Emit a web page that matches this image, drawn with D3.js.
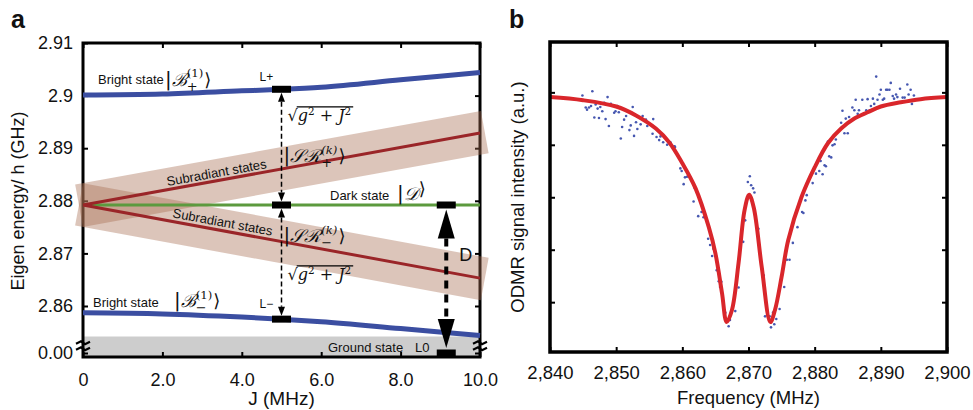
<!DOCTYPE html>
<html>
<head>
<meta charset="utf-8">
<title>Eigen energies and ODMR</title>
<style>
    html, body { margin: 0; padding: 0; background: #fff; }
    svg text { font-family: "Liberation Sans", Arial, sans-serif; fill: #111; }
    .math { font-family: "DejaVu Serif", serif; }
    .tick line { stroke: #000; stroke-width: 2; }
    .tick text { font-size: 18px; fill: #111; }
</style>
<script src="https://cdn.jsdelivr.net/npm/d3@7"></script>
</head>
<body>
<div id="main"></div>
<script>
// ---------- panel a : eigen energies vs coupling J ----------
var jTicks = [0, 2, 4, 6, 8, 10];
var jTickLabels = ["0", "2.0", "4.0", "6.0", "8.0", "10.0"];
var eTicks = [0, 2.86, 2.87, 2.88, 2.89, 2.9, 2.91];
var eTickLabels = ["0.00", "2.86", "2.87", "2.88", "2.89", "2.9", "2.91"];

var jGrid = [0, 2, 4, 5, 6, 8, 10];
var brightPlus  = [2.9001, 2.9003, 2.9009, 2.9012, 2.9016, 2.9030, 2.9044];
var brightMinus = [2.8587, 2.8585, 2.8579, 2.8575, 2.8570, 2.8557, 2.8544];
var lineJ = [0, 10];
var subPlus  = [2.8792, 2.8929];
var subMinus = [2.8792, 2.8653];
var dark     = [2.8792, 2.8792];
var bandJ = [-0.1, 10.12];          // subradiant bands run a bit past the frame
var groundTop = 2.8542;             // upper edge of the ground-state strip
var groundE = 0;
var transJ = 5;                     // L+ / L- transitions
var zeroFieldJ = 9.15;              // D transition

// ---------- panel b : ODMR spectrum ----------
var freqTicks = [2840, 2850, 2860, 2870, 2880, 2890, 2900];
var sigTicks = [1, 2, 3, 4, 5];
var fitFreq = [2840, 2845, 2850, 2853, 2856, 2858, 2860, 2862, 2864, 2865, 2866, 2866.7,
               2867.5, 2868.5, 2869.4, 2870.1, 2870.8, 2872, 2873.3, 2874, 2875, 2876,
               2878, 2880, 2882, 2884, 2886, 2888, 2890, 2893, 2896, 2900];
var fitSig  = [4.91, 4.85, 4.73, 4.56, 4.31, 4.05, 3.65, 3.17, 2.43, 1.93, 1.17, 0.62,
               0.85, 1.75, 2.75, 3.05, 2.80, 1.67, 0.62, 0.85, 1.48, 2.18,
               3.00, 3.57, 4.03, 4.31, 4.50, 4.62, 4.73, 4.81, 4.87, 4.91];
var dotFreq = [2844.9, 2846.4, 2845.4, 2845.6, 2845.9, 2846.2, 2846.9, 2847.2, 2847.6, 2847.9,
               2848.7, 2848.2, 2849.2, 2846.7, 2847.4, 2848.4, 2848.9, 2849.7, 2849.9, 2850.2,
               2850.4, 2851.2, 2851.5, 2850.9, 2850.7, 2852.0, 2852.2, 2852.5, 2852.7, 2853.0,
               2853.2, 2853.7, 2854.0, 2854.5, 2854.7, 2855.6, 2855.5, 2856.1, 2856.5, 2856.7,
               2857.1, 2857.7, 2858.0, 2858.4, 2858.8, 2858.2, 2858.9, 2859.7, 2859.9, 2860.2,
               2860.4, 2860.7, 2861.4, 2861.9, 2861.7, 2862.4, 2862.9, 2863.2, 2863.9, 2864.2,
               2864.7, 2864.5, 2865.2, 2865.5, 2865.9, 2865.7, 2866.2, 2866.5, 2867.0, 2867.2,
               2868.0, 2868.5, 2869.2, 2869.5, 2869.9, 2870.2, 2870.4, 2870.7, 2870.9, 2871.5,
               2872.3, 2872.5, 2873.2, 2873.4, 2873.7, 2873.9, 2874.2, 2874.7, 2875.4, 2875.8,
               2876.2, 2876.7, 2877.4, 2878.1, 2878.3, 2878.6, 2878.8, 2879.7, 2880.2, 2880.7,
               2881.2, 2880.9, 2881.5, 2881.7, 2882.2, 2882.5, 2882.7, 2883.0, 2883.2, 2882.0,
               2884.0, 2884.5, 2885.0, 2884.7, 2885.2, 2884.2, 2885.7, 2886.0, 2886.5, 2886.2,
               2886.7, 2887.2, 2887.8, 2888.0, 2888.3, 2888.5, 2888.8, 2889.0, 2889.3, 2889.5,
               2889.8, 2890.0, 2890.3, 2890.5, 2890.8, 2891.0, 2891.3, 2891.5, 2891.8, 2892.0,
               2892.3, 2892.5, 2892.9, 2893.3, 2893.6, 2894.0, 2894.2, 2894.5, 2895.0, 2894.7];
var dotSig  = [4.94, 5.02, 4.71, 4.67, 4.71, 4.74, 4.77, 4.69, 4.72, 4.64,
               4.91, 4.80, 4.78, 4.52, 4.51, 4.49, 4.36, 4.61, 4.64, 4.74,
               4.62, 4.48, 4.55, 4.34, 4.12, 4.28, 4.37, 4.72, 4.17, 4.43,
               4.30, 4.39, 4.55, 4.48, 4.36, 4.49, 4.21, 4.15, 4.09, 4.16,
               4.05, 4.00, 4.03, 3.99, 3.97, 4.05, 3.96, 3.55, 3.50, 3.25,
               3.38, 3.39, 3.32, 3.17, 2.92, 2.64, 2.72, 2.62, 2.21, 2.09,
               2.02, 1.88, 1.61, 1.40, 1.39, 1.29, 0.96, 0.80, 0.54, 0.66,
               0.83, 1.28, 2.15, 2.56, 3.29, 3.40, 3.23, 3.17, 3.09, 2.40,
               1.51, 0.73, 0.73, 0.52, 0.80, 0.58, 0.68, 0.87, 1.29, 1.81,
               1.81, 2.13, 2.43, 2.72, 2.70, 2.94, 3.04, 3.27, 3.45, 3.50,
               3.44, 3.69, 3.61, 3.59, 3.78, 3.76, 3.99, 4.01, 4.10, 4.06,
               4.42, 4.22, 4.22, 4.50, 4.53, 4.65, 4.71, 4.66, 4.59, 4.86,
               4.66, 4.86, 4.66, 4.87, 4.66, 4.74, 4.88, 4.78, 5.30, 4.86,
               4.96, 5.05, 4.86, 4.88, 5.05, 5.05, 5.05, 5.18, 4.93, 4.88,
               4.96, 4.91, 5.07, 4.90, 4.90, 5.15, 4.96, 5.05, 4.94, 4.78];

var width = 973, height = 410;
var blue = "#3b4ea1", darkRed = "#9a2528", green = "#5c9a3e";

var svg = d3.select("#main").append("svg")
    .attr("width", width).attr("height", height);

function ket(g, x, y, body, sup, sub, size) {
    var t = g.append("text").attr("class", "math")
        .attr("x", x).attr("y", y).style("font-size", size + "px");
    t.append("tspan").text("|").style("font-family", "DejaVu Sans").style("font-size", (size * 1.1) + "px");
    t.append("tspan").text(body).style("font-style", "italic");
    var s = t.append("tspan").attr("dy", -size * 0.45)
        .style("font-size", (size * 0.65) + "px").text(sup);
    if (sup.indexOf("k") >= 0) s.style("font-style", "italic");
    var w = s.node().getComputedTextLength();
    var b = t.append("tspan").attr("dx", -w).attr("dy", size * 0.75)
        .style("font-size", (size * 0.72) + "px").text(sub);
    var w2 = b.node().getComputedTextLength();
    t.append("tspan").attr("dx", Math.max(w - w2, 0) + 1).attr("dy", -size * 0.3)
        .style("font-family", "DejaVu Sans").text("\u27E9");
}

function sqrtLabel(g, x, y, size) {
    var t = g.append("text").attr("class", "math")
        .attr("x", x).attr("y", y).style("font-size", size + "px");
    var r = t.append("tspan").text("\u221A");
    t.append("tspan").style("font-style", "italic").text("g");
    t.append("tspan").attr("dy", -size * 0.4).style("font-size", (size * 0.65) + "px").text("2");
    t.append("tspan").attr("dy", size * 0.4).text(" + ");
    t.append("tspan").style("font-style", "italic").text("J");
    t.append("tspan").attr("dy", -size * 0.4).style("font-size", (size * 0.65) + "px").text("2");
    var x0 = x + r.node().getComputedTextLength();
    var bb = t.node().getBBox();
    g.append("line").attr("x1", x0 - 1).attr("x2", bb.x + bb.width + 2)
        .attr("y1", y - size * 0.88).attr("y2", y - size * 0.88)
        .attr("stroke", "#000").attr("stroke-width", 1.3);
}

function vArrow(g, x, yFrom, yTo, head, half, lw, dash) {
    // yFrom / yTo are the arrow tips; heads point outward to both ends
    var dir = yTo > yFrom ? 1 : -1;
    g.append("line").attr("x1", x).attr("x2", x)
        .attr("y1", yFrom + dir * head).attr("y2", yTo - dir * head)
        .attr("stroke", "#000").attr("stroke-width", lw).attr("stroke-dasharray", dash);
    [[yFrom, dir], [yTo, -dir]].forEach(function(p) {
        var tip = p[0], d = p[1];
        g.append("path")
            .attr("d", "M" + x + "," + tip + " L" + (x - half) + "," + (tip + d * head) +
                       " L" + (x + half) + "," + (tip + d * head) + " Z")
            .attr("fill", "#000");
    });
}

function marker(g, x, y) {
    g.append("rect").attr("x", x - 9.5).attr("y", y - 3.5)
        .attr("width", 19).attr("height", 7).attr("fill", "#000");
}

// ================= panel a =================
var xa = d3.scaleLinear().domain([0, 10]).range([83, 480]);
var ya = d3.scaleLinear().domain([groundE, groundTop, 2.91]).range([353, 336.5, 43]);
var aBottom = 357;
var ga = svg.append("g");

ga.append("rect").attr("x", xa(0)).attr("y", ya(groundTop))
    .attr("width", xa(10) - xa(0)).attr("height", aBottom - ya(groundTop))
    .attr("fill", "#cdcdcd");

// ticks (inward) on all four sides
ga.append("g").attr("transform", "translate(" + xa(0) + ",0)")
    .call(d3.axisLeft(ya).tickValues(eTicks).tickSizeInner(-5).tickSizeOuter(0).tickPadding(10)
        .tickFormat(function(d, i) { return eTickLabels[i]; }))
    .call(function(s) { s.select(".domain").remove(); });
ga.append("g").attr("transform", "translate(" + xa(10) + ",0)")
    .call(d3.axisRight(ya).tickValues(eTicks).tickSizeInner(-5).tickSizeOuter(0).tickFormat(""))
    .call(function(s) { s.select(".domain").remove(); });
ga.append("g").attr("transform", "translate(0," + aBottom + ")")
    .call(d3.axisBottom(xa).tickValues(jTicks).tickSizeInner(-5).tickSizeOuter(0).tickPadding(16)
        .tickFormat(function(d, i) { return jTickLabels[i]; }))
    .call(function(s) { s.select(".domain").remove(); });
ga.append("g").attr("transform", "translate(0," + ya(2.91) + ")")
    .call(d3.axisTop(xa).tickValues(jTicks).tickSizeInner(-5).tickSizeOuter(0).tickFormat(""))
    .call(function(s) { s.select(".domain").remove(); });

ga.append("rect").attr("x", xa(0)).attr("y", ya(2.91))
    .attr("width", xa(10) - xa(0)).attr("height", aBottom - ya(2.91))
    .attr("fill", "none").attr("stroke", "#000").attr("stroke-width", 3);

// axis break marks
[xa(0), xa(10)].forEach(function(bx) {
    [-3, 3].forEach(function(off) {
        var yb = (ya(groundTop) + ya(groundE)) / 2 + off + 1;
        ga.append("path")
            .attr("d", "M" + (bx - 7) + "," + (yb + 1) + " L" + (bx - 2) + "," + (yb - 1.5) +
                       " L" + (bx + 2) + "," + (yb + 1.5) + " L" + (bx + 7) + "," + (yb - 1))
            .attr("fill", "none").attr("stroke", "#000").attr("stroke-width", 2.2);
    });
});

var line = d3.line().x(function(d) { return xa(d[0]); }).y(function(d) { return ya(d[1]); });

// subradiant bands
[subPlus, subMinus].forEach(function(e) {
    var ext = d3.scaleLinear().domain(lineJ).range(e);
    ga.append("path")
        .datum(bandJ.map(function(j) { return [j, ext(j)]; }))
        .attr("d", line)
        .attr("fill", "none").attr("stroke", "#a86e53").attr("stroke-opacity", 0.4)
        .attr("stroke-width", 43);
});

ga.append("path").datum(jGrid.map(function(j, i) { return [j, brightPlus[i]]; }))
    .attr("d", line.curve(d3.curveMonotoneX))
    .attr("fill", "none").attr("stroke", blue).attr("stroke-width", 5);
ga.append("path").datum(jGrid.map(function(j, i) { return [j, brightMinus[i]]; }))
    .attr("d", line.curve(d3.curveMonotoneX))
    .attr("fill", "none").attr("stroke", blue).attr("stroke-width", 5);
line.curve(d3.curveLinear);
ga.append("path").datum(lineJ.map(function(j, i) { return [j, dark[i]]; }))
    .attr("d", line).attr("fill", "none").attr("stroke", green).attr("stroke-width", 3);
[subPlus, subMinus].forEach(function(e) {
    ga.append("path").datum(lineJ.map(function(j, i) { return [j, e[i]]; }))
        .attr("d", line).attr("fill", "none").attr("stroke", darkRed).attr("stroke-width", 3);
});

// transitions
var bpAt = d3.scaleLinear().domain(jGrid).range(brightPlus);
var bmAt = d3.scaleLinear().domain(jGrid).range(brightMinus);
var tx = xa(transJ);
vArrow(ga, tx, ya(bpAt(transJ)) + 3.5, ya(dark[0]) - 3.5, 9, 3.5, 1.5, "5,3");
vArrow(ga, tx, ya(dark[0]) + 3.5, ya(bmAt(transJ)) - 3.5, 9, 3.5, 1.5, "5,3");
marker(ga, tx, ya(bpAt(transJ)));
marker(ga, tx, ya(dark[0]));
marker(ga, tx, ya(bmAt(transJ)));
var dx = xa(zeroFieldJ);
vArrow(ga, dx, ya(dark[0]) + 4.5, ya(groundE) - 5, 29, 8.5, 4, "8,6");
marker(ga, dx, ya(dark[0]));
marker(ga, dx, ya(groundE));

// annotations
function small(g, x, y, s, size) {
    return g.append("text").attr("x", x).attr("y", y).style("font-size", (size || 13) + "px").text(s);
}
small(ga, xa(0) + 15, ya(2.9) - 12, "Bright state");
ket(ga, 165, ya(2.9) - 10, "\u212C", "(1)", "+", 18);
small(ga, tx - 22, ya(2.9) - 15, "L+", 12);
sqrtLabel(ga, tx + 6, 121, 16);
ket(ga, tx + 2, 162, "\uD835\uDCAE\u211B", "(k)", "+", 18);
small(ga, 330, ya(dark[0]) - 5, "Dark state");
ket(ga, 397, ya(dark[0]) - 5, "\uD835\uDC9F", "", "", 18);
ket(ga, tx + 2, 242, "\uD835\uDCAE\u211B", "(k)", "\u2212", 18);
sqrtLabel(ga, tx + 6, 280, 16);
small(ga, tx - 22, ya(bmAt(transJ)) - 11, "L\u2212", 12);
small(ga, xa(0) + 10, 307, "Bright state");
ket(ga, 174, 307, "\u212C", "(1)", "\u2212", 18);
small(ga, 328, 352, "Ground state");
small(ga, 415, 352, "L0");
small(ga, dx + 13, 261, "D", 18);

var angP = Math.atan2(ya(subPlus[1]) - ya(subPlus[0]), xa(10) - xa(0)) * 180 / Math.PI;
var angM = Math.atan2(ya(subMinus[1]) - ya(subMinus[0]), xa(10) - xa(0)) * 180 / Math.PI;
var spAt = d3.scaleLinear().domain(lineJ).range(subPlus);
var smAt = d3.scaleLinear().domain(lineJ).range(subMinus);
ga.append("text").attr("transform", "translate(" + xa(3.4) + "," + ya(spAt(3.4)) + ") rotate(" + angP + ")")
    .attr("y", -3.5).attr("text-anchor", "middle").style("font-size", "13px").text("Subradiant states");
ga.append("text").attr("transform", "translate(" + xa(3.48) + "," + ya(smAt(3.48)) + ") rotate(" + angM + ")")
    .attr("y", -4).attr("text-anchor", "middle").style("font-size", "13px").text("Subradiant states");

ga.append("text").attr("transform", "translate(24,201) rotate(-90)")
    .attr("text-anchor", "middle").style("font-size", "18px").text("Eigen energy/ h (GHz)");
ga.append("text").attr("x", (xa(0) + xa(10)) / 2).attr("y", 405)
    .attr("text-anchor", "middle").style("font-size", "19px").text("J (MHz)");
ga.append("text").attr("x", 11).attr("y", 28)
    .style("font-size", "25px").style("font-weight", "bold").text("a");

// ================= panel b =================
var xb = d3.scaleLinear().domain([2840, 2900]).range([550, 947]);
var yb = d3.scaleLinear().domain([0.05, 5.96]).range([352, 42]);
var gb = svg.append("g");

gb.append("g").attr("transform", "translate(0," + yb(0.05) + ")")
    .call(d3.axisBottom(xb).tickValues(freqTicks).tickSizeInner(-5).tickSizeOuter(0).tickPadding(14)
        .tickFormat(d3.format(",")))
    .call(function(s) { s.select(".domain").remove(); })
    .selectAll("text").style("font-size", "18.5px");
gb.append("g").attr("transform", "translate(0," + yb(5.96) + ")")
    .call(d3.axisTop(xb).tickValues(freqTicks).tickSizeInner(-5).tickSizeOuter(0).tickFormat(""))
    .call(function(s) { s.select(".domain").remove(); });
gb.append("g").attr("transform", "translate(" + xb(2840) + ",0)")
    .call(d3.axisLeft(yb).tickValues(sigTicks).tickSizeInner(-5).tickSizeOuter(0).tickFormat(""))
    .call(function(s) { s.select(".domain").remove(); });
gb.append("g").attr("transform", "translate(" + xb(2900) + ",0)")
    .call(d3.axisRight(yb).tickValues(sigTicks).tickSizeInner(-5).tickSizeOuter(0).tickFormat(""))
    .call(function(s) { s.select(".domain").remove(); });

gb.selectAll("circle.dot").data(dotFreq).enter().append("circle")
    .attr("class", "dot")
    .attr("cx", function(d) { return xb(d); })
    .attr("cy", function(d, i) { return yb(dotSig[i]); })
    .attr("r", 1.3).attr("fill", "#4657b0");

gb.append("path")
    .datum(fitFreq.map(function(f, i) { return [f, fitSig[i]]; }))
    .attr("d", d3.line().x(function(d) { return xb(d[0]); }).y(function(d) { return yb(d[1]); })
        .curve(d3.curveCatmullRom.alpha(0.5)))
    .attr("fill", "none").attr("stroke", "#d9262b").attr("stroke-width", 4)
    .attr("stroke-linejoin", "round");

gb.append("rect").attr("x", xb(2840)).attr("y", yb(5.96))
    .attr("width", xb(2900) - xb(2840)).attr("height", yb(0.05) - yb(5.96))
    .attr("fill", "none").attr("stroke", "#000").attr("stroke-width", 3.5);

gb.append("text").attr("transform", "translate(524,197) rotate(-90)")
    .attr("text-anchor", "middle").style("font-size", "18.5px").text("ODMR signal intensity (a.u.)");
gb.append("text").attr("x", (xb(2840) + xb(2900)) / 2).attr("y", 404)
    .attr("text-anchor", "middle").style("font-size", "18.5px").text("Frequency (MHz)");
gb.append("text").attr("x", 509).attr("y", 28)
    .style("font-size", "25px").style("font-weight", "bold").text("b");
</script>
</body>
</html>
